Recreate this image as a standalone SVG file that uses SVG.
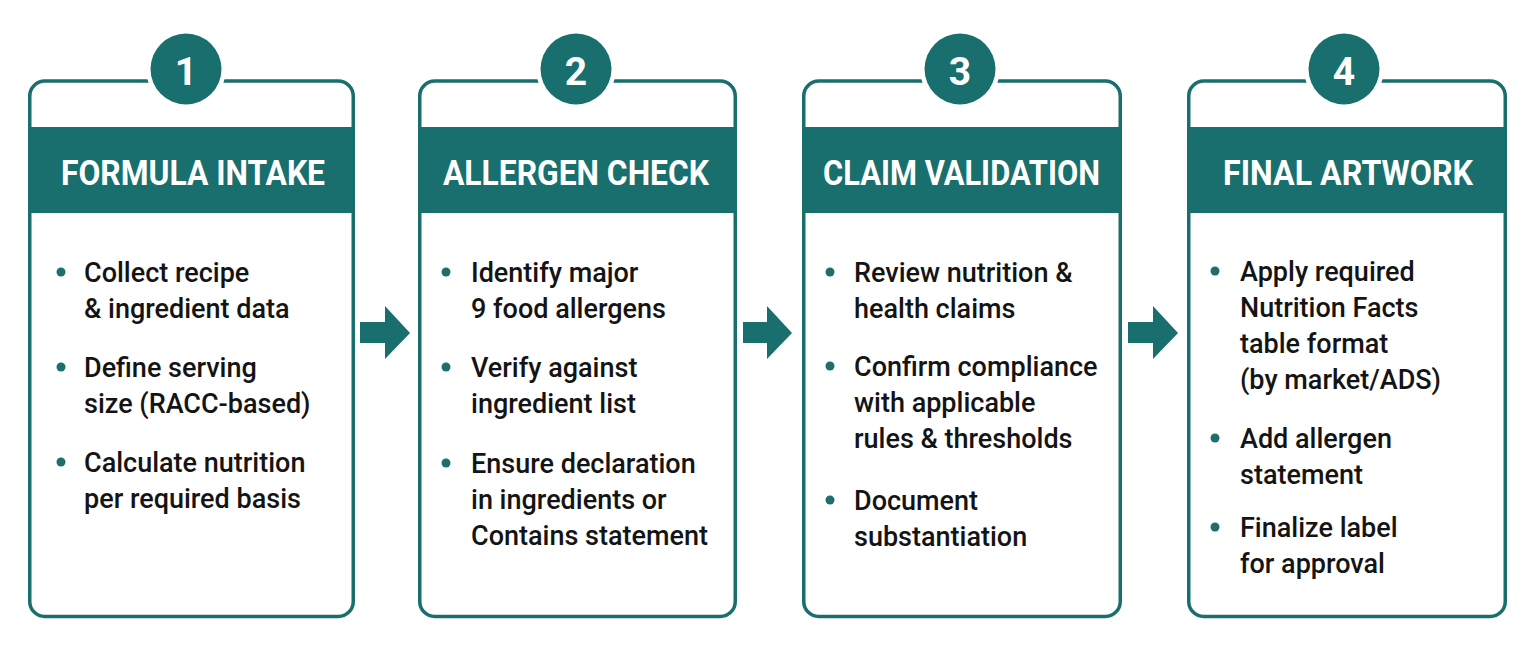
<svg xmlns="http://www.w3.org/2000/svg" width="1536" height="651" viewBox="0 0 1536 651">
<style>
.card{fill:#ffffff;stroke:#196f6d;stroke-width:3.5}
.band{fill:#196f6d}
.mask{fill:#ffffff}
.num{fill:#196f6d}
.numt{font-family:Roboto,"Liberation Sans",sans-serif;font-weight:700;font-size:39px;fill:#ffffff;text-anchor:middle}
.title{font-family:Roboto,"Liberation Sans",sans-serif;font-weight:700;font-size:35px;fill:#ffffff;text-anchor:middle}
.body{font-family:Roboto,"Liberation Sans",sans-serif;font-weight:500;font-size:27px;fill:#141414}
.dot{fill:#1d6f6e}
.arrow{fill:#196f6d}
</style>
<rect width="1536" height="651" fill="#ffffff"/>
<g id="connectors">
<polygon class="arrow" points="360,322 385,322 385,306 410,333 385,359 385,343 360,343"/>
<polygon class="arrow" points="743,322 767,322 767,306 792,333 767,359 767,343 743,343"/>
<polygon class="arrow" points="1128,322 1153,322 1153,306 1178,333 1153,359 1153,343 1128,343"/>
</g>
<g id="step1">
<rect class="card" x="29.75" y="81" width="323.5" height="535.5" rx="15"/>
<rect class="band" x="29.75" y="127" width="323.5" height="86"/>
<circle class="mask" cx="186" cy="69" r="40"/>
<circle class="num" cx="186" cy="69" r="35.5"/>
<text class="numt" x="186" y="85">1</text>
<text class="title" x="193" y="185" textLength="264" lengthAdjust="spacingAndGlyphs">FORMULA INTAKE</text>
<circle class="dot" cx="61" cy="272" r="4.5"/>
<text class="body" x="84" y="282">Collect recipe</text>
<text class="body" x="84" y="318">&amp; ingredient data</text>
<circle class="dot" cx="61" cy="367" r="4.5"/>
<text class="body" x="84" y="377">Define serving</text>
<text class="body" x="84" y="413">size (RACC-based)</text>
<circle class="dot" cx="61" cy="462" r="4.5"/>
<text class="body" x="84" y="472">Calculate nutrition</text>
<text class="body" x="84" y="508">per required basis</text>
</g>
<g id="step2">
<rect class="card" x="419.75" y="81" width="315.5" height="535.5" rx="15"/>
<rect class="band" x="419.75" y="127" width="315.5" height="86"/>
<circle class="mask" cx="576" cy="69" r="40"/>
<circle class="num" cx="576" cy="69" r="35.5"/>
<text class="numt" x="576" y="85">2</text>
<text class="title" x="576" y="185" textLength="266" lengthAdjust="spacingAndGlyphs">ALLERGEN CHECK</text>
<circle class="dot" cx="446" cy="272" r="4.5"/>
<text class="body" x="471" y="282">Identify major</text>
<text class="body" x="471" y="318">9 food allergens</text>
<circle class="dot" cx="446" cy="367" r="4.5"/>
<text class="body" x="471" y="377">Verify against</text>
<text class="body" x="471" y="413">ingredient list</text>
<circle class="dot" cx="446" cy="463" r="4.5"/>
<text class="body" x="471" y="473">Ensure declaration</text>
<text class="body" x="471" y="509">in ingredients or</text>
<text class="body" x="471" y="545">Contains statement</text>
</g>
<g id="step3">
<rect class="card" x="803.75" y="81" width="316.5" height="535.5" rx="15"/>
<rect class="band" x="803.75" y="127" width="316.5" height="86"/>
<circle class="mask" cx="960" cy="69" r="40"/>
<circle class="num" cx="960" cy="69" r="35.5"/>
<text class="numt" x="960" y="85">3</text>
<text class="title" x="961.5" y="185" textLength="277" lengthAdjust="spacingAndGlyphs">CLAIM VALIDATION</text>
<circle class="dot" cx="830" cy="272" r="4.5"/>
<text class="body" x="854" y="282">Review nutrition &amp;</text>
<text class="body" x="854" y="318">health claims</text>
<circle class="dot" cx="830" cy="366" r="4.5"/>
<text class="body" x="854" y="376">Confirm compliance</text>
<text class="body" x="854" y="412">with applicable</text>
<text class="body" x="854" y="448">rules &amp; thresholds</text>
<circle class="dot" cx="830" cy="500" r="4.5"/>
<text class="body" x="854" y="510">Document</text>
<text class="body" x="854" y="546">substantiation</text>
</g>
<g id="step4">
<rect class="card" x="1188.75" y="81" width="316.5" height="535.5" rx="15"/>
<rect class="band" x="1188.75" y="127" width="316.5" height="86"/>
<circle class="mask" cx="1344" cy="69" r="40"/>
<circle class="num" cx="1344" cy="69" r="35.5"/>
<text class="numt" x="1344" y="85">4</text>
<text class="title" x="1348" y="185" textLength="250" lengthAdjust="spacingAndGlyphs">FINAL ARTWORK</text>
<circle class="dot" cx="1215" cy="271" r="4.5"/>
<text class="body" x="1240" y="281">Apply required</text>
<text class="body" x="1240" y="317">Nutrition Facts</text>
<text class="body" x="1240" y="353">table format</text>
<text class="body" x="1240" y="389">(by market/ADS)</text>
<circle class="dot" cx="1215" cy="438" r="4.5"/>
<text class="body" x="1240" y="448">Add allergen</text>
<text class="body" x="1240" y="484">statement</text>
<circle class="dot" cx="1215" cy="527" r="4.5"/>
<text class="body" x="1240" y="537">Finalize label</text>
<text class="body" x="1240" y="573">for approval</text>
</g>
</svg>
